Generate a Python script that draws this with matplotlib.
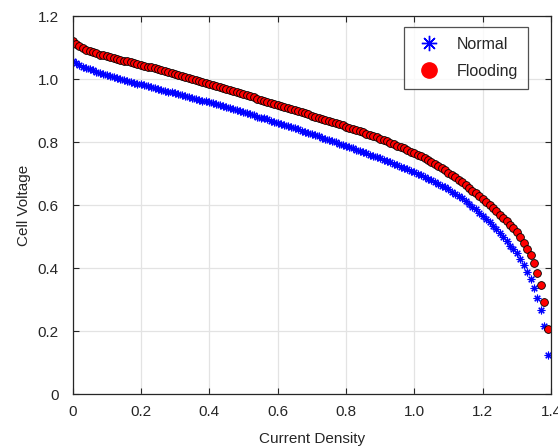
import numpy as np
import matplotlib
matplotlib.use("Agg")
import matplotlib.pyplot as plt
from matplotlib.ticker import FixedLocator, FuncFormatter

plt.rcParams["font.family"] = ["Liberation Sans", "DejaVu Sans"]

# current density, 0.00 .. 1.39 in steps of 0.01
current = np.round(np.arange(140) * 0.01, 2)

voltage_normal = [
    1.058, 1.050, 1.045, 1.040, 1.036, 1.032, 1.028, 1.024, 1.020, 1.017,
    1.013, 1.010, 1.007, 1.004, 1.001, 0.998, 0.995, 0.992, 0.989, 0.986,
    0.983, 0.980, 0.977, 0.974, 0.972, 0.969, 0.966, 0.963, 0.960, 0.958,
    0.955, 0.952, 0.949, 0.946, 0.944, 0.941, 0.938, 0.935, 0.932, 0.930,
    0.927, 0.924, 0.921, 0.917, 0.914, 0.911, 0.908, 0.904, 0.901, 0.898,
    0.895, 0.891, 0.888, 0.885, 0.881, 0.878, 0.875, 0.872, 0.868, 0.865,
    0.862, 0.858, 0.855, 0.851, 0.847, 0.844, 0.840, 0.836, 0.833, 0.829,
    0.825, 0.822, 0.818, 0.814, 0.810, 0.807, 0.803, 0.799, 0.795, 0.792,
    0.788, 0.784, 0.780, 0.776, 0.772, 0.768, 0.764, 0.760, 0.756, 0.752,
    0.748, 0.744, 0.740, 0.736, 0.731, 0.727, 0.722, 0.718, 0.713, 0.709,
    0.704, 0.699, 0.694, 0.689, 0.684, 0.679, 0.673, 0.668, 0.662, 0.656,
    0.650, 0.643, 0.636, 0.629, 0.621, 0.613, 0.604, 0.595, 0.586, 0.576,
    0.566, 0.556, 0.545, 0.534, 0.523, 0.511, 0.498, 0.485, 0.471, 0.459,
    0.447, 0.430, 0.410, 0.388, 0.364, 0.338, 0.306, 0.267, 0.216, 0.124,
]

voltage_flooding = [
    1.120, 1.111, 1.105, 1.099, 1.094, 1.090, 1.086, 1.082, 1.078, 1.075,
    1.072, 1.069, 1.066, 1.063, 1.061, 1.058, 1.056, 1.053, 1.051, 1.048,
    1.046, 1.043, 1.040, 1.037, 1.034, 1.031, 1.028, 1.025, 1.022, 1.019,
    1.016, 1.013, 1.010, 1.007, 1.004, 1.001, 0.998, 0.995, 0.992, 0.988,
    0.985, 0.982, 0.978, 0.975, 0.972, 0.968, 0.965, 0.962, 0.958, 0.955,
    0.952, 0.948, 0.945, 0.942, 0.938, 0.935, 0.932, 0.928, 0.925, 0.921,
    0.918, 0.915, 0.911, 0.908, 0.905, 0.901, 0.898, 0.895, 0.891, 0.888,
    0.884, 0.881, 0.877, 0.874, 0.870, 0.867, 0.863, 0.860, 0.856, 0.853,
    0.849, 0.846, 0.842, 0.838, 0.835, 0.831, 0.827, 0.823, 0.819, 0.815,
    0.811, 0.807, 0.803, 0.798, 0.794, 0.789, 0.785, 0.780, 0.775, 0.770,
    0.765, 0.760, 0.755, 0.749, 0.743, 0.737, 0.731, 0.725, 0.719, 0.711,
    0.703, 0.695, 0.688, 0.680, 0.672, 0.664, 0.655, 0.646, 0.637, 0.628,
    0.618, 0.609, 0.600, 0.590, 0.580, 0.570, 0.560, 0.549, 0.538, 0.527,
    0.515, 0.499, 0.481, 0.462, 0.441, 0.415, 0.385, 0.346, 0.293, 0.205,
]

x_ticks = [0, 0.2, 0.4, 0.6, 0.8, 1.0, 1.2, 1.4]
y_ticks = [0, 0.2, 0.4, 0.6, 0.8, 1.0, 1.2]

TXT = "#262626"

fig = plt.figure(figsize=(5.58, 4.48), dpi=100)
ax = fig.add_axes([0.130, 0.1205, 0.8575, 0.8435])

ax.plot(current, voltage_normal, ls="none", marker=(8, 2, 0), ms=5.5,
        mew=0.8, color="#0000ff", label="Normal")
ax.plot(current, voltage_flooding, ls="none", marker="o", ms=5.6,
        mfc="#ff0000", mec="black", mew=0.6, label="Flooding")

ax.set_xlim(0, 1.4)
ax.set_ylim(0, 1.2)
ax.xaxis.set_major_locator(FixedLocator(x_ticks))
ax.yaxis.set_major_locator(FixedLocator(y_ticks))
fmt = FuncFormatter(lambda v, p: "0" if v == 0 else f"{v:.1f}")
ax.xaxis.set_major_formatter(fmt)
ax.yaxis.set_major_formatter(fmt)
ax.tick_params(direction="in", length=4, width=0.8, top=True, right=True,
               labelsize=11, labelcolor=TXT, color="#262626")
ax.tick_params(axis="x", pad=8)
ax.tick_params(axis="y", pad=10)
ax.grid(True, color="#e3e3e3", lw=0.9)
ax.set_axisbelow(True)
for s in ax.spines.values():
    s.set_color("#262626")
    s.set_linewidth(0.9)

ax.set_xlabel("Current Density", fontsize=11, color=TXT, labelpad=9)
ax.set_ylabel("Cell Voltage", fontsize=11, color=TXT, labelpad=5)

h1 = plt.Line2D([], [], ls="none", marker=(8, 2, 0), ms=11, mew=1.0, color="#0000ff")
h2 = plt.Line2D([], [], ls="none", marker="o", ms=11, mfc="#ff0000", mec="#ff0000")
leg = ax.legend([h1, h2], ["Normal", "Flooding"], loc="upper right",
                bbox_to_anchor=(0.951, 0.97), fontsize=11.5, frameon=True,
                fancybox=False, edgecolor="#262626", handletextpad=0.7,
                borderpad=0.6, labelspacing=0.75, handlelength=2.0,
                borderaxespad=0)
leg.get_frame().set_linewidth(0.9)
for t in leg.get_texts():
    t.set_color(TXT)

fig.savefig("out.png", dpi=100)
